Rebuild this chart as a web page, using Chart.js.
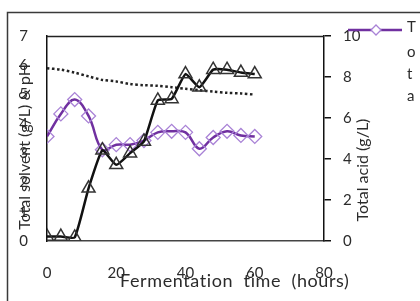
<!DOCTYPE html>
<html><head><meta charset="utf-8">
<script src="https://cdn.jsdelivr.net/npm/chart.js@4/dist/chart.umd.min.js"></script>
<style>html,body{margin:0;padding:0;background:#fff;overflow:hidden}#wrap{width:420px;height:301px;position:relative}</style>
</head><body><div id="wrap"><canvas id="c" width="420" height="301"></canvas></div>
<script>
// ---- data ----
const hours        = [0, 4, 8, 12, 16, 20, 24, 28, 32, 36, 40, 44, 48, 52, 56, 60];
const totalSolvent = [0.15, 0.15, 0.12, 1.8, 3.1, 2.6, 3.0, 3.4, 4.8, 4.85, 5.7, 5.25, 5.85, 5.85, 5.75, 5.7];
const totalAcid    = [5.1, 6.2, 6.9, 6.1, 4.45, 4.7, 4.7, 4.9, 5.3, 5.35, 5.3, 4.5, 5.05, 5.35, 5.15, 5.1];
const pHValues     = [5.9, 5.85, 5.75, 5.62, 5.5, 5.45, 5.36, 5.32, 5.3, 5.25, 5.2, 5.15, 5.1, 5.06, 5.04, 5.0];
const xTicks     = [0, 20, 40, 60, 80];
const leftTicks  = [0, 1, 2, 3, 4, 5, 6, 7];
const rightTicks = [0, 2, 4, 6, 8, 10];
const xTitle = 'Fermentation  time  (hours)';
const leftTitle = 'Total solvent (g/L) & pH';
const rightTitle = 'Total acid (g/L)';
const legendLabel = 'Total acid';

const FONT = 'Lato, "DejaVu Sans", sans-serif';
const TXT = '#2b2b2b';
const pts = arr => hours.map((h, i) => ({x: h, y: arr[i]}));

const decor = {
  id: 'decor',
  afterDraw(chart) {
    const ctx = chart.ctx, a = chart.chartArea;
    ctx.save();
    // outer frame
    ctx.strokeStyle = '#3a3a3a'; ctx.lineWidth = 1.5;
    ctx.beginPath(); ctx.moveTo(7.5, 310); ctx.lineTo(7.5, 12.5); ctx.lineTo(430, 12.5); ctx.stroke();
    // plot top line
    ctx.strokeStyle = '#222'; ctx.lineWidth = 1.3;
    ctx.beginPath(); ctx.moveTo(a.left, a.top + 0.5); ctx.lineTo(a.right, a.top + 0.5); ctx.stroke();
    // titles
    ctx.fillStyle = TXT; ctx.textBaseline = 'middle';
    ctx.font = '18px ' + FONT;
    ctx.letterSpacing = '0.6px';
    ctx.textAlign = 'left'; ctx.fillText(xTitle, 120, 281);
    ctx.letterSpacing = '0px';
    ctx.font = '16px ' + FONT;
    ctx.textAlign = 'center';
    ctx.save(); ctx.translate(25, 147); ctx.rotate(-Math.PI / 2); ctx.fillText(leftTitle, 0, 0); ctx.restore();
    ctx.save(); ctx.translate(363, 170); ctx.rotate(-Math.PI / 2); ctx.fillText(rightTitle, 0, 0); ctx.restore();
    // legend
    ctx.strokeStyle = '#7030A0'; ctx.lineWidth = 2.5;
    ctx.beginPath(); ctx.moveTo(348, 30); ctx.lineTo(402, 30); ctx.stroke();
    ctx.strokeStyle = '#A982D6'; ctx.lineWidth = 1.3; ctx.fillStyle = '#fff';
    ctx.beginPath(); ctx.moveTo(376, 25); ctx.lineTo(381, 30); ctx.lineTo(376, 35); ctx.lineTo(371, 30); ctx.closePath(); ctx.fill(); ctx.stroke();
    ctx.fillStyle = TXT; ctx.font = '15px ' + FONT; ctx.textAlign = 'left';
    const letters = legendLabel.slice(0, 4).split('');
    const ys = [27, 52, 74, 96];
    letters.forEach((ch, i) => ctx.fillText(ch, 407, ys[i]));
    ctx.restore();
  }
};

new Chart(document.getElementById('c'), {
  type: 'line',
  data: {
    datasets: [
      { label: 'Total solvent', data: pts(totalSolvent), yAxisID: 'y', order: 1,
        borderColor: '#111', borderWidth: 2.5, tension: 0.15,
        pointStyle: 'triangle', pointRadius: 7.5, pointBorderColor: '#333', pointBorderWidth: 1.5,
        pointBackgroundColor: 'rgba(255,255,255,0)' },
      { label: 'Total acid', data: pts(totalAcid), yAxisID: 'y1', order: 2,
        borderColor: '#7030A0', borderWidth: 2.5, tension: 0.4,
        pointStyle: 'rectRot', pointRadius: 7, pointBorderColor: '#A982D6', pointBorderWidth: 1.3,
        pointBackgroundColor: 'rgba(255,255,255,0)' },
      { label: 'pH', data: pts(pHValues), yAxisID: 'y', order: 3,
        borderColor: '#222', borderWidth: 2.5, borderDash: [2.5, 2.5], tension: 0.3,
        pointRadius: 0 }
    ]
  },
  options: {
    responsive: false, animation: false, devicePixelRatio: 1,
    layout: { padding: { top: 36, left: 0, right: 0, bottom: 0 } },
    plugins: { legend: { display: false }, tooltip: { enabled: false } },
    scales: {
      x: { type: 'linear', min: 0, max: 80,
        afterBuildTicks: s => { s.ticks = xTicks.map(v => ({value: v})); },
        afterFit: s => { s.height = 60; },
        grid: { display: false, drawTicks: false },
        border: { display: true, color: '#444', width: 1.5 },
        ticks: { padding: 23, color: TXT, font: { family: FONT, size: 15 } } },
      y: { position: 'left', min: 0, max: 7,
        afterBuildTicks: s => { s.ticks = leftTicks.map(v => ({value: v})); },
        afterFit: s => { s.width = 47; },
        grid: { display: false, drawTicks: false },
        border: { display: true, color: '#111', width: 1.5 },
        ticks: { padding: 19, color: TXT, font: { family: FONT, size: 15 } } },
      y1: { position: 'right', min: 0, max: 10,
        afterBuildTicks: s => { s.ticks = rightTicks.map(v => ({value: v})); },
        afterFit: s => { s.width = 96; },
        grid: { display: true, drawOnChartArea: false, drawTicks: true, tickLength: 7, color: '#111', lineWidth: 1.5 },
        border: { display: true, color: '#111', width: 1.5 },
        ticks: { padding: 12, color: TXT, font: { family: FONT, size: 15 } } }
    }
  },
  plugins: [decor]
});
</script>
</body></html>
